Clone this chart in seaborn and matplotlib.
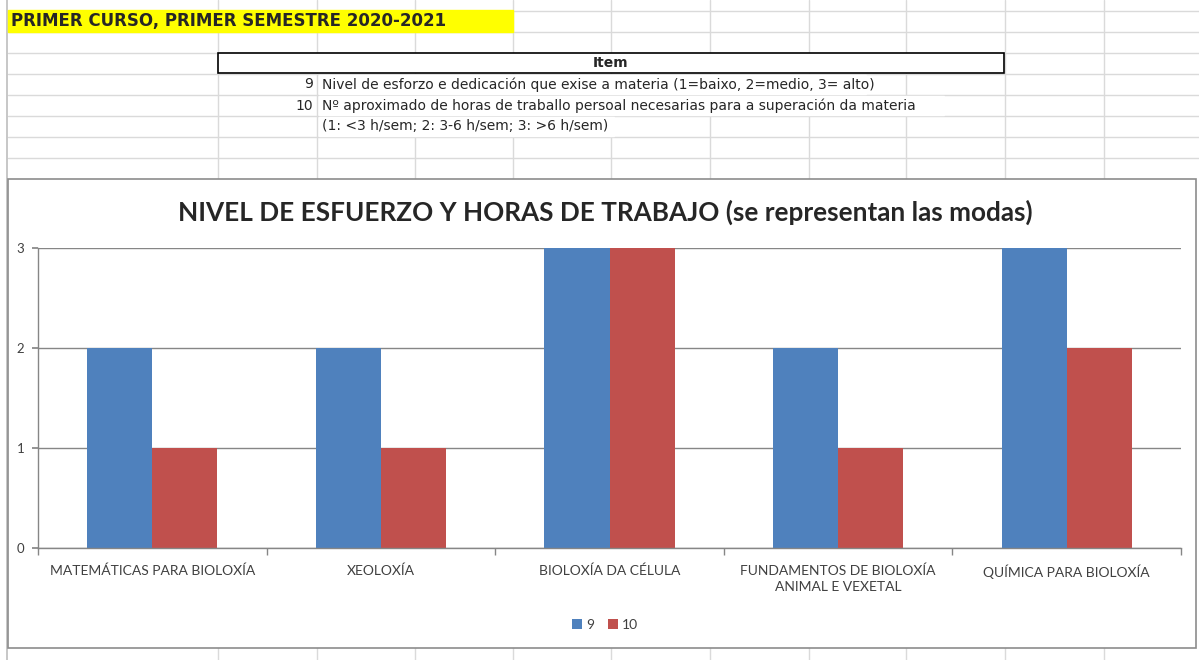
import matplotlib
matplotlib.use('Agg')
import matplotlib.pyplot as plt
import seaborn as sns
import pandas as pd
from matplotlib.patches import Rectangle

# data
categories = ["MATEMÁTICAS PARA BIOLOXÍA", "XEOLOXÍA", "BIOLOXÍA DA CÉLULA",
              "FUNDAMENTOS DE BIOLOXÍA\nANIMAL E VEXETAL", "QUÍMICA PARA BIOLOXÍA"]
item9 = [2, 2, 3, 2, 3]
item10 = [1, 1, 3, 1, 2]
series_names = ["9", "10"]
yticks = [0, 1, 2, 3]

sheet_title = "PRIMER CURSO, PRIMER SEMESTRE 2020-2021"
item_rows = [("9", "Nivel de esforzo e dedicación que exise a materia (1=baixo, 2=medio, 3= alto)"),
             ("10", "Nº aproximado de horas de traballo persoal necesarias para a superación da materia"),
             ("", "(1: <3 h/sem; 2: 3-6 h/sem; 3: >6 h/sem)")]
chart_title = "NIVEL DE ESFUERZO Y HORAS DE TRABAJO (se representan las modas)"

df = pd.DataFrame({
    'materia': categories * 2,
    'valor': item9 + item10,
    'item': [series_names[0]] * len(categories) + [series_names[1]] * len(categories),
})

sns.set_theme(style='white')
plt.rcParams['font.family'] = ['DejaVu Sans']

W, H = 1199, 660
fig = plt.figure(figsize=(W / 100, H / 100), dpi=100)

# spreadsheet background in pixel coords
bg = fig.add_axes([0, 0, 1, 1])
bg.set_xlim(0, W)
bg.set_ylim(H, 0)
bg.axis('off')

grid_c = '#dadada'
cols = [218, 317, 415, 513, 611, 710, 809, 906, 1005, 1104]
rows = [11, 32, 53, 74, 95, 116, 137, 158]
for x in cols:
    bg.plot([x, x], [0, H], color=grid_c, lw=1)
for y in rows:
    bg.plot([8, W], [y, y], color=grid_c, lw=1)
bg.plot([7, 7], [0, H], color='#bdbdbd', lw=1.2)

# yellow header
bg.add_patch(Rectangle((8, 10), 505, 22, color='#ffff00', zorder=3))
bg.text(11, 21, sheet_title, fontsize=12, fontweight='bold', va='center', ha='left', zorder=4)

# item box
bg.add_patch(Rectangle((218, 53), 786, 20, facecolor='white', edgecolor='black', lw=1.2, zorder=3))
bg.text(611, 63, "Item", fontsize=10, fontweight='bold', ha='center', va='center', zorder=4)

# text overflow hides the gridlines
ends = [866, 944, 614]
for i, (num, txt) in enumerate(item_rows):
    y = 74 + 21 * i
    bg.add_patch(Rectangle((319, y + 1), ends[i] - 319, 19, color='white', zorder=3))
    bg.text(313, y + 10.5, num, fontsize=10, ha='right', va='center', zorder=4)
    bg.text(322, y + 10.5, txt, fontsize=10, ha='left', va='center', zorder=4)

# chart frame
bg.add_patch(Rectangle((8, 179), 1188, 469, facecolor='white', edgecolor='#8c8c8c', lw=1.2, zorder=5))
bg.text(605, 212, chart_title, fontsize=18.8, fontweight='bold', family=['Lato', 'DejaVu Sans'],
        ha='center', va='center', zorder=6)

# bar chart
x0, x1, ytop, ybot = 38, 1181, 248, 548
ax = fig.add_axes([x0 / W, 1 - ybot / H, (x1 - x0) / W, (ybot - ytop) / H])
sns.barplot(data=df, x='materia', y='valor', hue='item', hue_order=series_names,
            palette=['#4f81bd', '#c0504d'], width=0.57, gap=0, saturation=1,
            edgecolor='none', ax=ax)
ax.set_ylim(0, 3)
ax.set_xlim(-0.5, len(categories) - 0.5)
ax.set_yticks(yticks)
ax.set_xlabel('')
ax.set_ylabel('')
ax.set_facecolor('none')
ax.yaxis.grid(True, color='#868686', lw=1)
ax.set_axisbelow(True)
for s in ['top', 'right']:
    ax.spines[s].set_visible(False)
for s in ['left', 'bottom']:
    ax.spines[s].set_color('#868686')
    ax.spines[s].set_linewidth(1)
ax.tick_params(axis='y', length=4, color='#868686', direction='out', left=True, pad=6,
               labelsize=9.5, labelcolor='#404040')
ax.set_xticks([i - 0.5 for i in range(len(categories) + 1)], minor=True)
ax.tick_params(axis='x', which='minor', length=5, color='#868686', direction='out', bottom=True)
ax.tick_params(axis='x', which='major', length=0, pad=12, labelsize=10, labelcolor='#404040')
for lab in ax.get_xticklabels() + ax.get_yticklabels():
    lab.set_family(['Lato', 'DejaVu Sans'])
    lab.set_linespacing(1.35)

leg = ax.legend(ncol=2, frameon=False, loc='center', bbox_to_anchor=(605 / W, 1 - 625 / H),
                bbox_transform=fig.transFigure, handlelength=0.7, handleheight=0.7,
                handletextpad=0.3, columnspacing=1.0, prop={'family': ['Lato', 'DejaVu Sans'], 'size': 10})
for t in leg.get_texts():
    t.set_color('#404040')

fig.savefig('out.png', dpi=100)
